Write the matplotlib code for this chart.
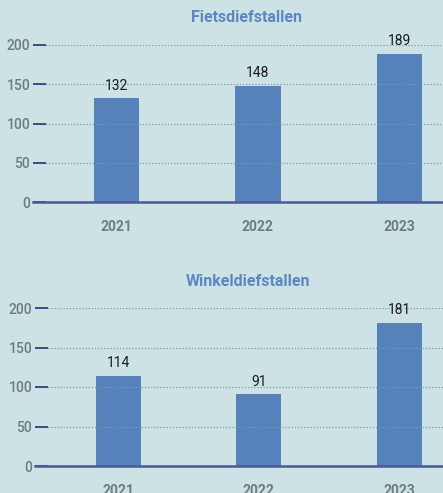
import matplotlib
matplotlib.use("Agg")
import matplotlib.pyplot as plt

years = ["2021", "2022", "2023"]
fiets = [132, 148, 189]
winkel = [114, 91, 181]
titles = ["Fietsdiefstallen", "Winkeldiefstallen"]
yticks = [0, 50, 100, 150, 200]

BG = "#cde2e4"
BAR = "#5681ba"
TITLE = "#5b87c2"
TICKC = "#6e7c80"
NAVY = "#34407e"
GRID = "#6fa3a6"

W, H = 443, 493
fig = plt.figure(figsize=(W / 100, H / 100), dpi=100)
fig.patch.set_facecolor(BG)

font = "Roboto"

def make(ax_rect_px, values, title, title_y, year_y):
    l, b_px, r, t_px = ax_rect_px
    ax = fig.add_axes([l / W, 1 - b_px / H, (r - l) / W, (b_px - t_px) / H])
    ax.set_facecolor(BG)
    x = list(range(len(values)))
    ax.bar(x, values, width=0.32, color=BAR, zorder=1)
    ax.set_xlim(-0.592, 2.31)
    ax.set_ylim(0, 200)
    ax.set_yticks(yticks)
    ax.set_yticklabels([str(v) for v in yticks], fontsize=10, color=TICKC,
                       family=font, fontweight="medium")
    ax.tick_params(axis="y", direction="in", length=9.5, width=1.3, color=NAVY, pad=2)
    ax.set_xticks(x)
    ax.set_xticklabels(years)
    ax.tick_params(axis="x", length=0, pad=13)
    for lab in ax.get_xticklabels():
        lab.set_fontsize(10)
        lab.set_color(TICKC)
        lab.set_family(font)
        lab.set_fontweight("bold")
    ax.yaxis.grid(True, linestyle=(0, (1, 1.5)), color=GRID, linewidth=0.9)
    ax.set_axisbelow(False)
    for s in ["top", "right", "left"]:
        ax.spines[s].set_visible(False)
    ax.spines["bottom"].set_color("#4a5a96")
    ax.spines["bottom"].set_linewidth(1.8)
    ax.spines["bottom"].set_zorder(3)
    for xi, v in zip(x, values):
        ax.annotate(str(v), (xi, v), xytext=(0, 4), textcoords="offset points",
                    ha="center", va="bottom", fontsize=10, color="#1a1a1a",
                    family=font, annotation_clip=False)
    fig.text((l + r) / 2 / W + 0.02, 1 - title_y / H, title, ha="center", va="center",
             fontsize=11.5, color=TITLE, family=font, fontweight="bold")
    return ax

make((33, 202, 443, 45), fiets, titles[0], 18, 225)
make((35, 466, 443, 308), winkel, titles[1], 282, 488)

fig.savefig("out.png", dpi=100, facecolor=BG)
